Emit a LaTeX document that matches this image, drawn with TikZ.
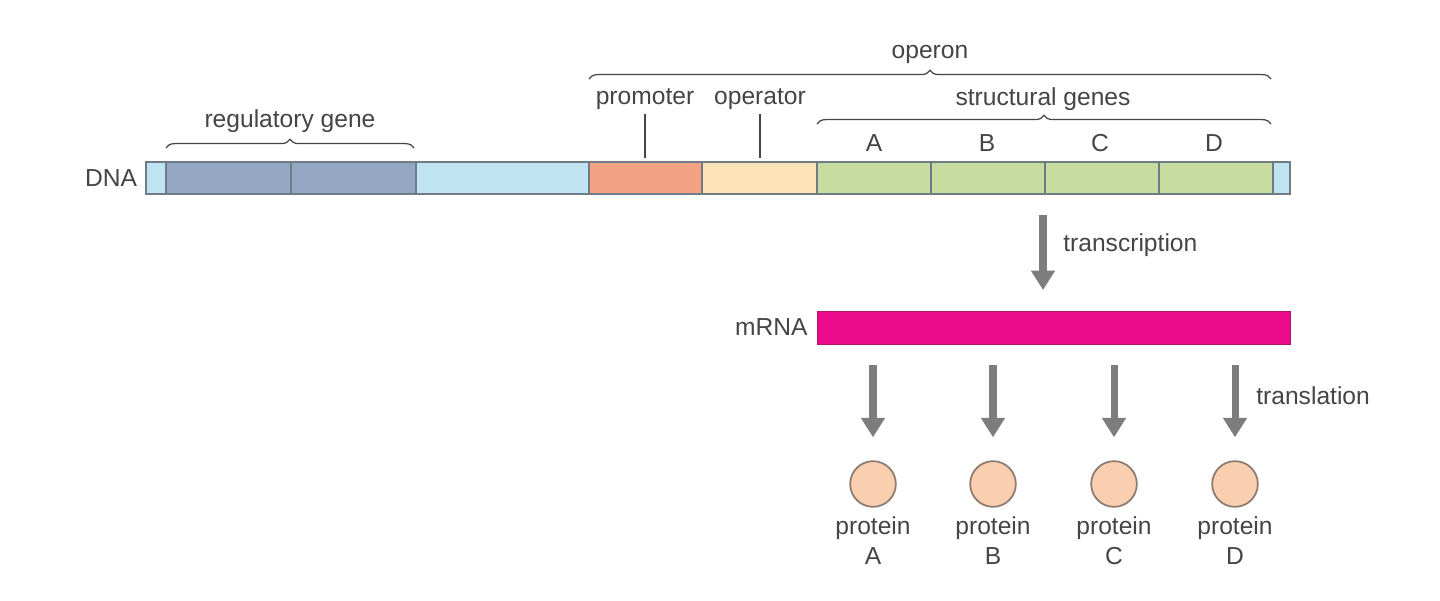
\documentclass[tikz,border=0pt]{standalone}
\usepackage{fontspec}
\setmainfont{Liberation Sans}
\usetikzlibrary{arrows.meta,decorations.pathreplacing}
\definecolor{dnablue}{HTML}{BFE3F1}
\definecolor{regblue}{HTML}{93A7C3}
\definecolor{promcol}{HTML}{F4A184}
\definecolor{opercol}{HTML}{FCE3B6}
\definecolor{genecol}{HTML}{C9DCA0}
\definecolor{segline}{HTML}{6F7C86}
\definecolor{mrnapink}{HTML}{EC0B8C}
\definecolor{mrnaline}{HTML}{B0156E}
\definecolor{arrgray}{HTML}{7D7D7D}
\definecolor{txtgray}{HTML}{454545}
\definecolor{protfill}{HTML}{F9CFB0}
\definecolor{protline}{HTML}{8C7B70}
\tikzset{
  seg/.style={draw=segline, line width=0.8pt},
  brc/.style={decorate, decoration={brace, amplitude=5pt}, draw=txtgray, line width=0.7pt},
  bigarrow/.style={-{Triangle[width=13pt,length=11pt]}, line width=4pt, draw=arrgray},
  lbl/.style={text=txtgray, font=\fontsize{14}{17}\selectfont, inner sep=0pt},
  tick/.style={draw=txtgray, line width=0.9pt},
  prot/.style={circle, draw=protline, fill=protfill, line width=1pt, minimum size=26pt, inner sep=0pt}
}
\begin{document}
\begin{tikzpicture}[x=0.02cm,y=-0.02cm]
    \useasboundingbox[fill=white] (0,0) rectangle (1440,601);
    % DNA strand
    \foreach \a/\b/\c in {146/166/dnablue, 166/291/regblue, 291/416/regblue,
        416/589/dnablue, 589/702/promcol, 702/817/opercol, 817/931/genecol,
        931/1045/genecol, 1045/1159/genecol, 1159/1273/genecol, 1273/1290/dnablue}
        {
            \draw[seg, fill=\c] (\a,162) rectangle (\b,194);
        }
    \node[lbl] (dna) at (111,178) {DNA};
    % braces
    \draw[brc] (166,148) -- (414,148);
    \node[lbl] (reg) at (290,121) {regulatory gene};
    \draw[brc] (589,79) -- (1271,79);
    \node[lbl] (operon) at (930,54) {operon};
    \draw[brc] (817,124) -- (1271,124);
    \node[lbl] (struct) at (1043,99) {structural genes};
    \node[lbl] (prom) at (645,99) {promoter};
    \node[lbl] (oper) at (760,99) {operator};
    \draw[tick] (645,114) -- (645,158);
    \draw[tick] (760,114) -- (760,158);
    \foreach \x/\l in {874/A, 987/B, 1100/C, 1214/D}
        \node[lbl] (g\l) at (\x,143) {\l};
    % transcription
    \node[draw=mrnaline, fill=mrnapink, line width=0.6pt, inner sep=0pt,
        minimum width=9.46cm, minimum height=0.66cm, anchor=north west] (mrna) at (817,311) {};
    \node[lbl, anchor=east] (mrnalbl) at (808,327) {mRNA};
    \coordinate (tstart) at (1043,215);
    \draw[bigarrow] (tstart) -- ([yshift=0.42cm]mrna.north -| tstart);
    \node[lbl, anchor=west] (tlbl) at (1063,245) {transcription};
    % translation
    \foreach \x/\l in {873/A, 993/B, 1114/C, 1235/D}
        {
            \node[prot] (p\l) at (\x,484) {};
            \node[lbl, align=center] (pl\l) at (\x,541) {protein\\\l};
            \coordinate (tr\l) at (\x,365);
            \draw[bigarrow] (tr\l) -- ([yshift=0.46cm]p\l.north);
        }
    \node[lbl, anchor=west] (trlbl) at (1256,396) {translation};
\end{tikzpicture}
\end{document}
